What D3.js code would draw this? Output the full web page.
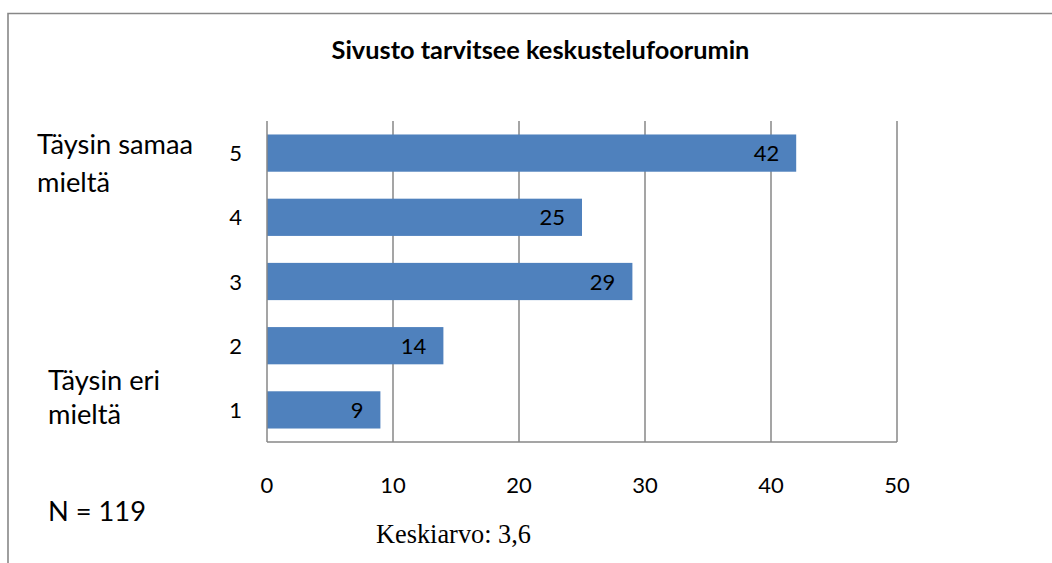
<!DOCTYPE html>
<html>
<head>
<meta charset="utf-8">
<script src="https://cdn.jsdelivr.net/npm/d3@7"></script>
<style>
  html, body { margin: 0; padding: 0; background: #fff; }
  svg { display: block; }
  text { font-family: Lato, "Open Sans", sans-serif; fill: #000; }
</style>
</head>
<body>
<svg id="chart" width="1052" height="563"></svg>
<script>
// ---- data ----
const title = "Sivusto tarvitsee keskustelufoorumin";
const categories = ["5", "4", "3", "2", "1"];
const values = [42, 25, 29, 14, 9];
const xTicks = [0, 10, 20, 30, 40, 50];
const topLabel = ["Täysin samaa", "mieltä"];
const bottomLabel = ["Täysin eri", "mieltä"];
const nText = "N = 119";
const meanText = "Keskiarvo: 3,6";

// ---- layout ----
const svg = d3.select("#chart");
const plot = { left: 267, right: 897, top: 121, bottom: 442 };
const gray = "#878787";

function fit(sel, target) {
  const node = sel.node();
  const fs = parseFloat(sel.attr("font-size"));
  const w = node.getComputedTextLength();
  sel.attr("font-size", (fs * target / w).toFixed(2));
  return sel;
}

// outer frame (extends past the right/bottom edge)
svg.append("path")
  .attr("d", "M8,1100 V13.5 H1100")
  .attr("fill", "none").attr("stroke", gray).attr("stroke-width", 1.6);

const x = d3.scaleLinear().domain([0, 50]).range([plot.left, plot.right]);
const y = d3.scaleBand().domain(categories).range([plot.top, plot.bottom])
  .paddingInner(0.42).paddingOuter(0.21);

// gridlines
svg.append("g").selectAll("line").data(xTicks.filter(d => d > 0)).join("line")
  .attr("x1", d => x(d)).attr("x2", d => x(d))
  .attr("y1", plot.top).attr("y2", plot.bottom)
  .attr("stroke", gray).attr("stroke-width", 1.5);

// bars
svg.append("g").selectAll("rect").data(values).join("rect")
  .attr("x", x(0))
  .attr("y", (d, i) => y(categories[i]))
  .attr("width", d => x(d) - x(0))
  .attr("height", y.bandwidth())
  .attr("fill", "#4F81BD");

// axes lines
svg.append("line").attr("x1", plot.left).attr("x2", plot.left)
  .attr("y1", plot.top).attr("y2", plot.bottom)
  .attr("stroke", gray).attr("stroke-width", 1.5);
svg.append("line").attr("x1", plot.left).attr("x2", plot.right)
  .attr("y1", plot.bottom).attr("y2", plot.bottom)
  .attr("stroke", gray).attr("stroke-width", 1.5);

// data labels
svg.append("g").selectAll("text").data(values).join("text")
  .attr("x", d => x(d) - 17)
  .attr("y", (d, i) => y(categories[i]) + y.bandwidth() / 2 + 8)
  .attr("text-anchor", "end")
  .attr("font-size", 22)
  .text(d => d);

// y tick labels
svg.append("g").selectAll("text").data(categories).join("text")
  .attr("x", 242)
  .attr("y", d => y(d) + y.bandwidth() / 2 + 8)
  .attr("text-anchor", "end")
  .attr("font-size", 22)
  .text(d => d);

// x tick labels
svg.append("g").selectAll("text").data(xTicks).join("text")
  .attr("x", d => x(d))
  .attr("y", 493)
  .attr("text-anchor", "middle")
  .attr("font-size", 22)
  .text(d => d);

// title
const t = svg.append("text").attr("x", 540.5).attr("y", 59)
  .attr("text-anchor", "middle").attr("font-weight", "bold")
  .attr("font-size", 20).text(title);
fit(t, 418);

// left category labels
const tl1 = svg.append("text").attr("x", 37).attr("y", 154).attr("font-size", 26).text(topLabel[0]);
fit(tl1, 156);
svg.append("text").attr("x", 37).attr("y", 192).attr("font-size", tl1.attr("font-size")).text(topLabel[1]);

const bl1 = svg.append("text").attr("x", 48).attr("y", 390).attr("font-size", tl1.attr("font-size")).text(bottomLabel[0]);
svg.append("text").attr("x", 48).attr("y", 424).attr("font-size", tl1.attr("font-size")).text(bottomLabel[1]);

// N
svg.append("text").attr("x", 48).attr("y", 521).attr("font-size", tl1.attr("font-size")).text(nText);

// mean (serif)
const m = svg.append("text").attr("x", 376).attr("y", 543)
  .attr("font-size", 22)
  .style("font-family", "'Liberation Serif', 'DejaVu Serif', serif")
  .text(meanText);
fit(m, 155);
</script>
</body>
</html>
